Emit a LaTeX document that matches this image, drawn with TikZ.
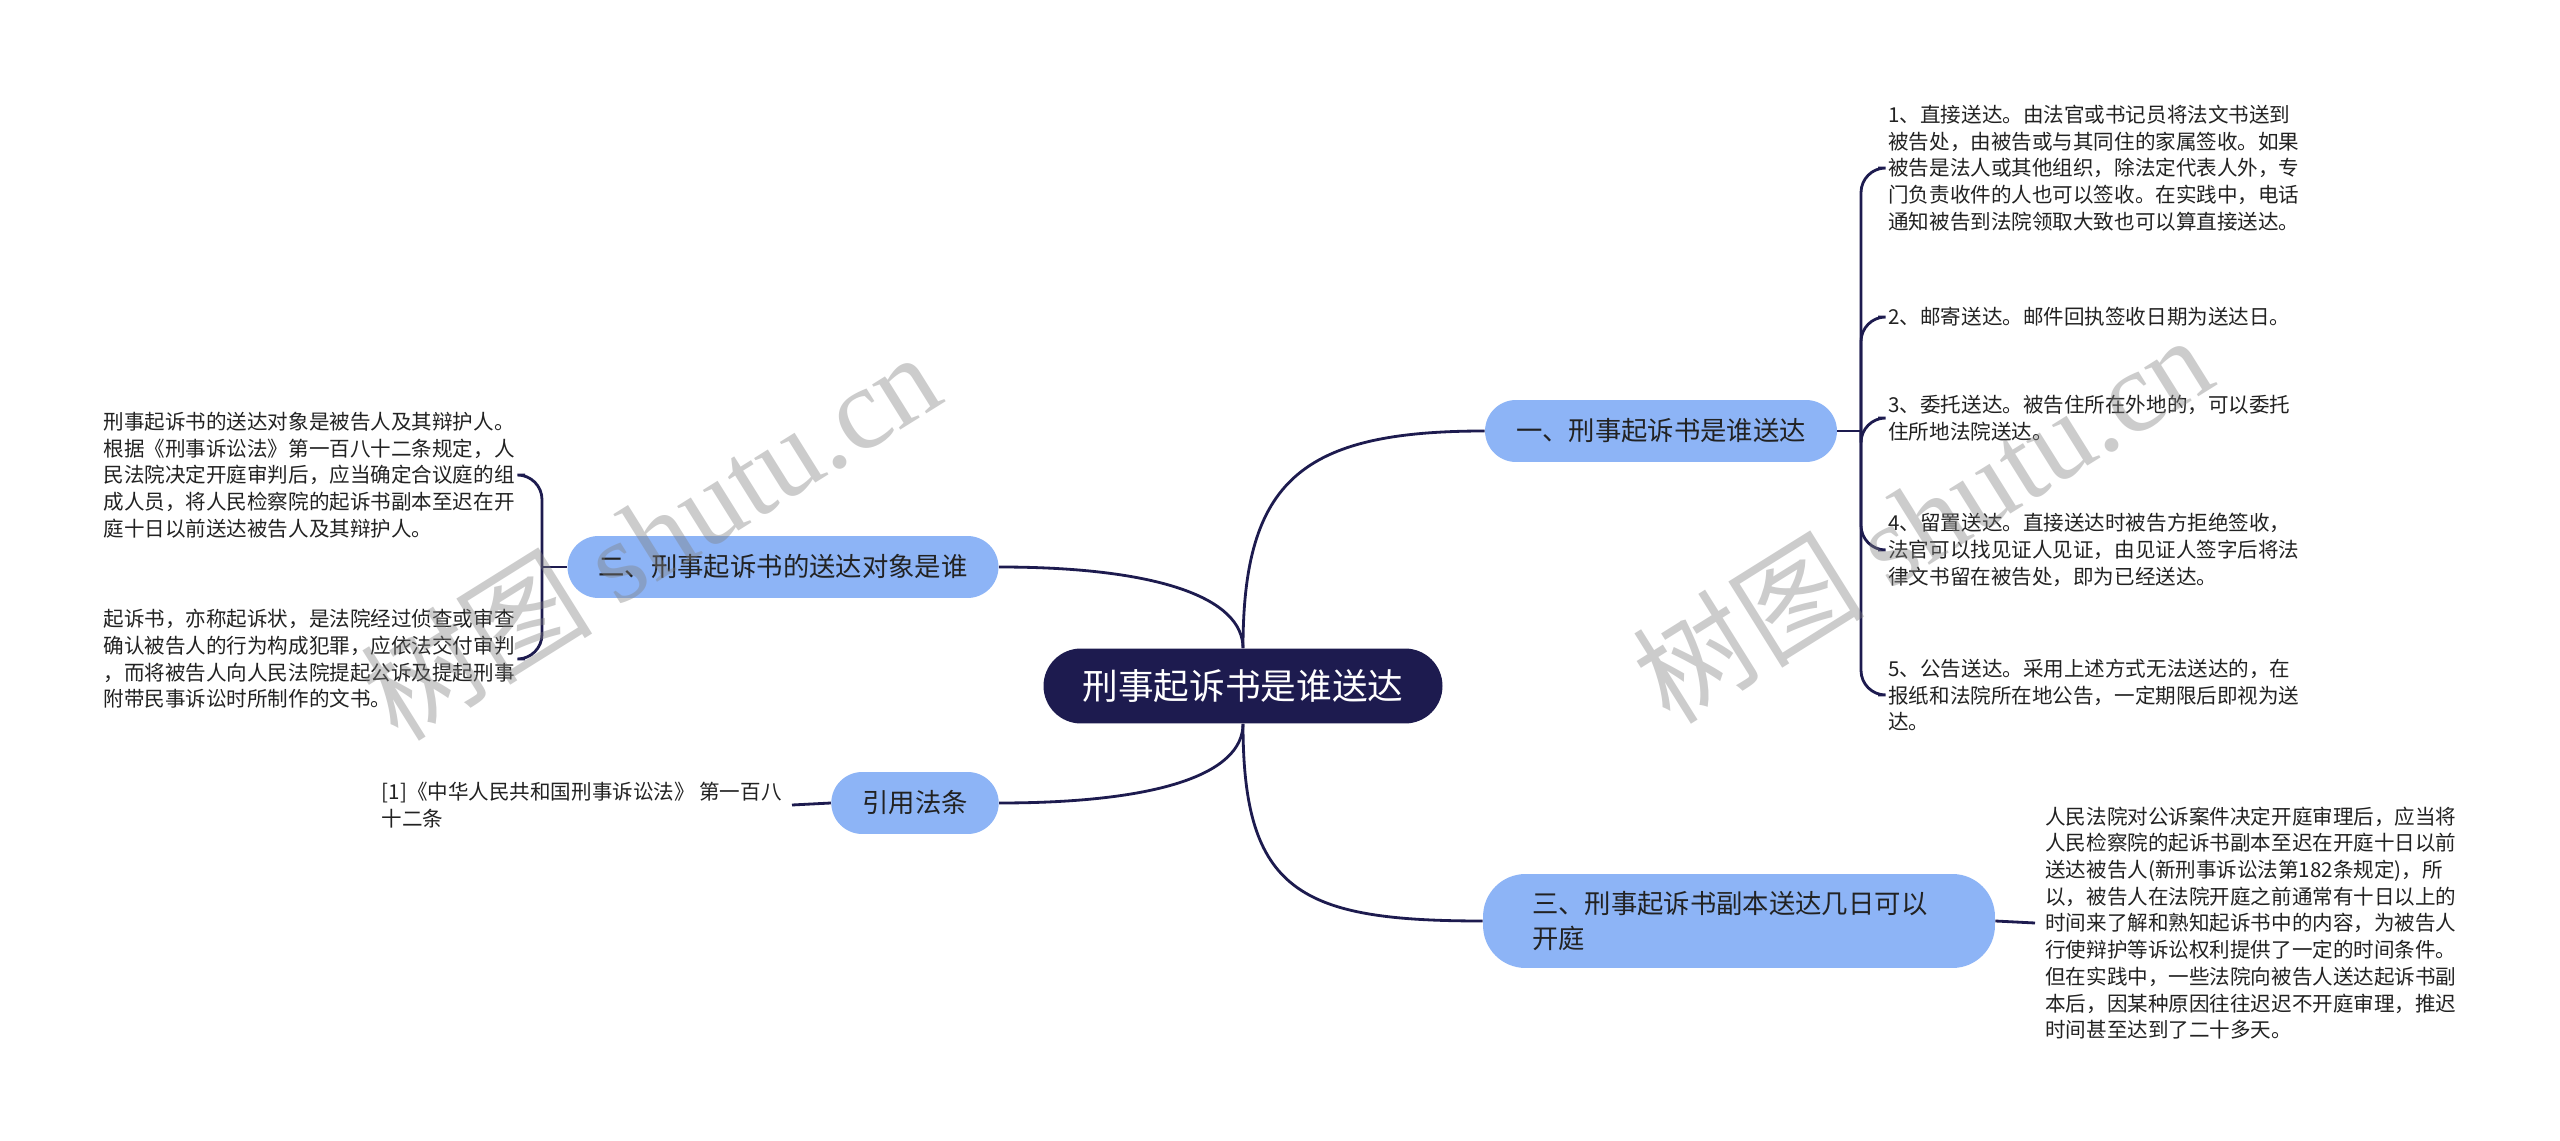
\documentclass[tikz,border=0pt]{standalone}
\usepackage{fontspec}
\setmainfont{Noto Sans CJK SC}
\newfontfamily\wmserif{Liberation Serif}
\usetikzlibrary{positioning, calc}

\definecolor{rootnavy}{HTML}{1D1B4F}
\definecolor{topicblue}{HTML}{8DB4F6}
\definecolor{leafgray}{HTML}{222222}

\begin{document}
\begin{tikzpicture}[x=0.02cm, y=-0.02cm,
  link/.style={line width=1.6pt, draw=rootnavy},
  rootbox/.style={fill=rootnavy, text=white, rounded corners=0.75cm,
    minimum height=1.5cm, inner xsep=0.78cm, font=\fontsize{20.3}{24}\selectfont},
  topic/.style={fill=topicblue, text=leafgray, rounded corners=0.62cm,
    minimum height=1.24cm, inner xsep=0.62cm, inner ysep=0.1cm,
    font=\fontsize{15}{20.4}\selectfont},
  leaf/.style={text=leafgray, align=left, inner xsep=0.2cm, inner ysep=0pt,
    font=\fontsize{11.7}{15.2}\selectfont},
  watermark/.style={text=gray, opacity=0.4, rotate=32,
    font=\fontsize{66}{70}\selectfont}
]

% --- Canvas (pixel grid of the reference) ---
\fill[white] (0,0) rectangle (2560,1141);
\useasboundingbox (0,0) rectangle (2560,1141);

% --- Root and main topics ---
\node[rootbox] (root) at (1243,686) {刑事起诉书是谁送达};
\node[topic] (who) at (1661,431) {一、刑事起诉书是谁送达};
\node[topic] (target) at (783,567) {二、刑事起诉书的送达对象是谁};
\node[topic] (cite) at (915,803) {引用法条};
\node[topic, align=left, text width=8.28cm, inner xsep=0.98cm,
  rounded corners=0.85cm, minimum height=1.88cm] (days) at (1739,921)
  {三、刑事起诉书副本送达几日可以\\开庭};

% --- Curves from root ---
\draw[link] (root.north) .. controls +(0,-168) and +(-183,0) .. (who.west);
\draw[link] (root.north) .. controls +(0,-50) and +(160,0) .. (target.east);
\draw[link] (root.south) .. controls +(0,50) and +(160,0) .. (cite.east);
\draw[link] (root.south) .. controls +(0,168) and +(-183,0) .. (days.west);

% --- Branch 1: five ways of delivery ---
\coordinate (j1) at (1861,431);
\draw[link] (who.east) -- (j1);
\foreach \n/\y/\txt in {
  1/168/{1、直接送达。由法官或书记员将法文书送到\\被告处，由被告或与其同住的家属签收。如果\\被告是法人或其他组织，除法定代表人外，专\\门负责收件的人也可以签收。在实践中，电话\\通知被告到法院领取大致也可以算直接送达。},
  2/317/{2、邮寄送达。邮件回执签收日期为送达日。},
  3/418/{3、委托送达。被告住所在外地的，可以委托\\住所地法院送达。},
  4/550/{4、留置送达。直接送达时被告方拒绝签收，\\法官可以找见证人见证，由见证人签字后将法\\律文书留在被告处，即为已经送达。},
  5/695/{5、公告送达。采用上述方式无法送达的，在\\报纸和法院所在地公告，一定期限后即视为送\\达。}} {
  \node[leaf, anchor=west] (way\n) at (1878,\y) {\txt};
  \draw[link, rounded corners=14] (j1) |- (way\n.west);
}

% --- Branch 2: delivery target ---
\coordinate (j2) at (542,567);
\draw[link] (target.west) -- (j2);
\foreach \n/\y/\txt in {
  1/475/{刑事起诉书的送达对象是被告人及其辩护人。\\根据《刑事诉讼法》第一百八十二条规定，人\\民法院决定开庭审判后，应当确定合议庭的组\\成人员，将人民检察院的起诉书副本至迟在开\\庭十日以前送达被告人及其辩护人。},
  2/659/{起诉书，亦称起诉状，是法院经过侦查或审查\\确认被告人的行为构成犯罪，应依法交付审判\\，而将被告人向人民法院提起公诉及提起刑事\\附带民事诉讼时所制作的文书。}} {
  \node[leaf, anchor=east] (obj\n) at (525,\y) {\txt};
  \draw[link, rounded corners=14] (j2) |- (obj\n.east);
}

% --- Branch: cited article ---
\node[leaf, anchor=east] (article) at (792,805)
  {[1]《中华人民共和国刑事诉讼法》 第一百八\\十二条};
\draw[link] (cite.west) -- (article.east);

% --- Branch 3: days before trial ---
\node[leaf, anchor=west] (daynote) at (2035,923)
  {人民法院对公诉案件决定开庭审理后，应当将\\人民检察院的起诉书副本至迟在开庭十日以前\\送达被告人(新刑事诉讼法第182条规定)，所\\以，被告人在法院开庭之前通常有十日以上的\\时间来了解和熟知起诉书中的内容，为被告人\\行使辩护等诉讼权利提供了一定的时间条件。\\但在实践中，一些法院向被告人送达起诉书副\\本后，因某种原因往往迟迟不开庭审理，推迟\\时间甚至达到了二十多天。};
\draw[link] (days.east) -- (daynote.west);

% --- Watermarks ---
\node[watermark] (wmleft) at (650,535) {树图 {\wmserif shutu.cn}};
\node[watermark] (wmright) at (1922,518) {树图 {\wmserif shutu.cn}};

\end{tikzpicture}
\end{document}
